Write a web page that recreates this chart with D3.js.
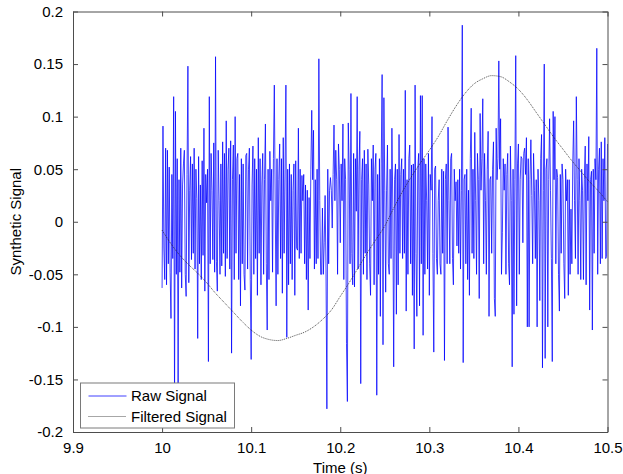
<!DOCTYPE html>
<html>
<head>
<meta charset="utf-8">
<script src="https://cdn.jsdelivr.net/npm/d3@7"></script>
<style>
	body { margin: 0; background: #fff; }
	text { font-family: "Liberation Sans", Arial, Helvetica, sans-serif; }
</style>
</head>
<body>
<div id="chart"></div>
<script>

// Raw signal, sampled at 1 kHz from t = 10 s
let rawStart = 10.0;
let rawStep = 0.001;
let rawSignal = [
	-0.063, 0.091, -0.025, -0.055, 0.070, -0.060, 0.068, -0.040, 0.052, -0.048,
	-0.092, 0.045, -0.035, 0.119, -0.175, 0.105, -0.050, 0.060, -0.160, 0.040,
	-0.048, 0.070, -0.063, 0.035, 0.055, 0.068, -0.050, -0.071, 0.045, 0.148,
	-0.058, 0.030, 0.062, -0.036, 0.055, -0.030, 0.070, -0.045, 0.050, 0.022,
	-0.111, 0.062, -0.040, 0.035, -0.055, 0.058, -0.032, 0.089, -0.066, 0.045,
	0.018, 0.050, -0.133, 0.119, -0.040, 0.065, 0.030, -0.036, 0.075, -0.048,
	0.157, -0.038, -0.066, 0.068, 0.020, -0.050, 0.055, -0.042, 0.076, -0.030,
	0.065, -0.052, 0.096, -0.035, 0.050, 0.070, -0.045, 0.077, -0.125, 0.040,
	0.073, -0.055, 0.100, -0.030, 0.060, 0.065, -0.055, 0.045, -0.080, 0.060,
	-0.040, 0.055, -0.050, -0.065, 0.063, 0.065, -0.045, 0.050, 0.070, -0.055,
	-0.131, 0.035, 0.072, -0.050, 0.060, -0.035, 0.050, -0.070, 0.080, -0.030,
	0.060, -0.060, 0.035, 0.065, -0.050, 0.040, 0.093, -0.040, -0.103, 0.050,
	-0.055, 0.067, 0.020, 0.050, -0.048, 0.060, 0.130, 0.015, -0.080, 0.060,
	-0.050, 0.040, 0.074, -0.035, 0.060, -0.068, 0.080, -0.030, 0.050, 0.130,
	-0.110, 0.050, -0.060, 0.055, -0.040, 0.045, -0.055, 0.030, 0.055, -0.070,
	0.058, -0.025, -0.027, 0.089, -0.035, 0.050, -0.030, 0.044, 0.020, 0.045,
	-0.040, 0.035, -0.055, 0.030, -0.084, 0.023, -0.035, 0.050, 0.106, 0.040,
	0.087, -0.045, 0.040, -0.040, 0.050, -0.035, 0.155, 0.020, -0.050, -0.050,
	0.013, -0.050, -0.020, 0.025, -0.045, -0.178, 0.050, -0.040, 0.030, 0.042,
	0.030, -0.006, 0.045, 0.092, 0.020, 0.068, 0.040, -0.050, 0.074, 0.050,
	-0.020, 0.055, 0.020, 0.093, -0.055, 0.060, 0.040, -0.116, -0.171, 0.094,
	0.050, -0.040, 0.122, -0.030, -0.060, 0.065, -0.062, 0.060, 0.010, 0.119,
	-0.045, 0.050, 0.086, -0.154, 0.040, 0.060, -0.050, 0.068, -0.030, 0.055,
	-0.055, 0.069, 0.035, -0.040, -0.070, 0.060, 0.020, 0.073, -0.060, 0.050,
	0.065, -0.165, 0.045, -0.050, 0.060, -0.090, 0.055, 0.140, -0.117, 0.118,
	0.030, -0.067, 0.030, 0.073, -0.040, -0.050, 0.050, -0.035, 0.089, 0.015,
	-0.138, 0.040, 0.055, -0.088, 0.050, -0.060, 0.083, -0.030, 0.045, 0.060,
	-0.035, 0.050, -0.030, 0.125, -0.085, 0.040, -0.050, 0.060, 0.073, -0.040,
	0.054, -0.070, 0.055, -0.121, 0.130, -0.030, -0.090, 0.050, 0.065, -0.080,
	0.120, -0.040, 0.120, -0.108, 0.060, -0.050, 0.055, 0.020, -0.045, 0.065,
	-0.070, 0.045, 0.030, 0.100, -0.030, -0.124, 0.050, 0.053, -0.035, -0.050,
	0.020, 0.040, -0.040, -0.050, 0.050, -0.030, 0.048, -0.132, 0.040, 0.055,
	-0.040, 0.090, 0.020, -0.040, 0.060, 0.065, -0.035, -0.060, 0.050, 0.020,
	0.038, -0.023, 0.040, -0.030, 0.050, -0.045, 0.030, 0.187, -0.134, 0.040,
	0.045, -0.040, 0.050, -0.055, 0.030, -0.070, 0.060, 0.108, -0.030, 0.050,
	-0.035, 0.085, 0.020, -0.050, 0.065, 0.040, -0.073, 0.103, 0.030, 0.060,
	0.117, -0.040, 0.065, 0.020, -0.050, 0.050, 0.086, -0.090, 0.040, 0.043,
	-0.030, 0.050, 0.076, -0.073, -0.090, 0.089, 0.040, 0.060, 0.153, 0.050,
	0.098, -0.050, -0.010, 0.060, 0.030, 0.055, -0.050, 0.045, 0.065, -0.040,
	-0.060, 0.072, 0.020, -0.138, 0.050, -0.088, 0.040, 0.158, -0.080, 0.055,
	0.074, -0.050, 0.040, 0.062, 0.060, -0.020, 0.065, 0.070, 0.045, 0.080,
	-0.100, 0.060, -0.100, 0.040, 0.078, 0.025, -0.040, 0.065, 0.030, -0.035,
	0.040, -0.100, 0.050, 0.020, -0.075, 0.060, 0.083, -0.139, 0.030, 0.150,
	-0.130, 0.050, 0.060, -0.100, 0.040, 0.098, 0.030, -0.035, -0.133, 0.105,
	0.040, 0.100, -0.040, 0.050, 0.042, -0.050, -0.085, 0.045, -0.030, 0.055,
	0.040, -0.040, -0.073, 0.050, 0.020, 0.040, -0.070, 0.040, -0.050, 0.012,
	-0.040, 0.055, 0.096, 0.020, -0.035, 0.119, 0.040, -0.050, 0.060, 0.020,
	-0.055, 0.050, 0.030, -0.055, 0.040, 0.072, -0.060, 0.055, 0.020, 0.081,
	-0.084, 0.040, 0.048, -0.103, 0.050, -0.030, 0.060, 0.040, 0.165, -0.050,
	0.050, 0.070, -0.040, 0.076, -0.035, 0.060, 0.020, 0.080, -0.035, -0.033,
	0.074
];

// Filtered signal, read every 10 ms
let filteredTime = [
	10.00, 10.01, 10.02, 10.03, 10.04, 10.05, 10.06, 10.07, 10.08, 10.09,
	10.10, 10.11, 10.12, 10.13, 10.14, 10.15, 10.16, 10.17, 10.18, 10.19,
	10.20, 10.21, 10.22, 10.23, 10.24, 10.25, 10.26, 10.27, 10.28, 10.29,
	10.30, 10.31, 10.32, 10.33, 10.34, 10.35, 10.36, 10.37, 10.38, 10.39,
	10.40, 10.41, 10.42, 10.43, 10.44, 10.45, 10.46, 10.47, 10.48, 10.49,
	10.50
];
let filteredSignal = [
	-0.008, -0.021, -0.032, -0.041, -0.049, -0.058, -0.068, -0.077, -0.086, -0.095,
	-0.103, -0.109, -0.112, -0.113, -0.111, -0.108, -0.105, -0.100, -0.093, -0.084,
	-0.071, -0.058, -0.044, -0.030, -0.017, -0.004, 0.013, 0.029, 0.043, 0.056,
	0.068, 0.081, 0.096, 0.110, 0.122, 0.131, 0.136, 0.139, 0.138, 0.133,
	0.126, 0.116, 0.104, 0.092, 0.080, 0.069, 0.058, 0.048, 0.038, 0.029,
	0.019
];

let xTicks = [9.9, 10, 10.1, 10.2, 10.3, 10.4, 10.5];
let xTickLabels = ["9.9", "10", "10.1", "10.2", "10.3", "10.4", "10.5"];
let yTicks = [-0.2, -0.15, -0.1, -0.05, 0, 0.05, 0.1, 0.15, 0.2];
let yTickLabels = ["-0.2", "-0.15", "-0.1", "-0.05", "0", "0.05", "0.1", "0.15", "0.2"];
let legendLabels = ["Raw Signal", "Filtered Signal"];

let totalWidth = 623;
let totalHeight = 474;
let margin = { top: 11.5, right: 15.5, bottom: 42, left: 73 };
let width = totalWidth - margin.left - margin.right;
let height = totalHeight - margin.top - margin.bottom;
let axisColor = "#4d4d4d";
let fontSize = "15px";

let svg = d3.select("#chart").append("svg")
	.attr("width", totalWidth)
	.attr("height", totalHeight);

let g = svg.append("g")
	.attr("transform", "translate(" + margin.left + "," + margin.top + ")");

let x = d3.scaleLinear().domain([9.9, 10.5]).range([0, width]);
let y = d3.scaleLinear().domain([-0.2, 0.2]).range([height, 0]);

// Raw signal
let rawLine = d3.line()
	.x((d, i) => x(rawStart + i * rawStep))
	.y(d => y(d));

g.append("path")
	.datum(rawSignal)
	.attr("fill", "none")
	.attr("stroke", "#0000ff")
	.attr("stroke-width", 0.75)
	.attr("stroke-linejoin", "round")
	.attr("d", rawLine);

// Filtered signal
let filteredLine = d3.line()
	.x((d, i) => x(filteredTime[i]))
	.y(d => y(d))
	.curve(d3.curveMonotoneX);

g.append("path")
	.datum(filteredSignal)
	.attr("fill", "none")
	.attr("stroke", "#222")
	.attr("stroke-width", 0.8)
	.attr("stroke-dasharray", "1,1")
	.attr("d", filteredLine);

// Axes on all four sides, ticks pointing inward
function styleAxis(sel) {
	sel.select(".domain").attr("stroke", axisColor).attr("stroke-width", 1);
	sel.selectAll(".tick line").attr("stroke", axisColor);
	sel.selectAll(".tick text")
		.attr("fill", "#000")
		.style("font-size", fontSize)
		.style("font-family", "'Liberation Sans', Arial, sans-serif");
}

g.append("g")
	.attr("transform", "translate(0," + height + ")")
	.call(d3.axisBottom(x).tickValues(xTicks).tickFormat((d, i) => xTickLabels[i])
		.tickSizeInner(-5).tickSizeOuter(0).tickPadding(10))
	.call(styleAxis);

g.append("g")
	.call(d3.axisLeft(y).tickValues(yTicks).tickFormat((d, i) => yTickLabels[i])
		.tickSizeInner(-5).tickSizeOuter(0).tickPadding(10))
	.call(styleAxis);

g.append("g")
	.call(d3.axisTop(x).tickValues(xTicks).tickFormat("")
		.tickSizeInner(-5).tickSizeOuter(0))
	.call(styleAxis);

g.append("g")
	.attr("transform", "translate(" + width + ",0)")
	.call(d3.axisRight(y).tickValues(yTicks).tickFormat("")
		.tickSizeInner(-5).tickSizeOuter(0))
	.call(styleAxis);

// Axis titles
svg.append("text")
	.attr("x", margin.left + width / 2)
	.attr("y", 472.5)
	.attr("text-anchor", "middle")
	.style("font-size", fontSize)
	.text("Time (s)");

svg.append("text")
	.attr("transform", "translate(21," + (margin.top + height / 2) + ") rotate(-90)")
	.attr("text-anchor", "middle")
	.style("font-size", fontSize)
	.text("Synthetic Signal");

// Legend
let legend = svg.append("g")
	.attr("transform", "translate(80.5,383)");

legend.append("rect")
	.attr("width", 154)
	.attr("height", 45)
	.attr("fill", "#fff")
	.attr("stroke", "#7a7a7a")
	.attr("stroke-width", 1);

let legendStyles = [
	{ stroke: "#0000ff", width: 0.75, dash: null },
	{ stroke: "#222", width: 0.8, dash: "1,1" }
];

legendLabels.forEach((label, i) => {
	let row = legend.append("g")
		.attr("transform", "translate(0," + (13 + i * 20.5) + ")");
	row.append("line")
		.attr("x1", 8).attr("x2", 46)
		.attr("stroke", legendStyles[i].stroke)
		.attr("stroke-width", legendStyles[i].width)
		.attr("stroke-dasharray", legendStyles[i].dash);
	row.append("text")
		.attr("x", 50.5)
		.attr("dy", "0.35em")
		.style("font-size", fontSize)
		.text(label);
});

</script>
</body>
</html>
